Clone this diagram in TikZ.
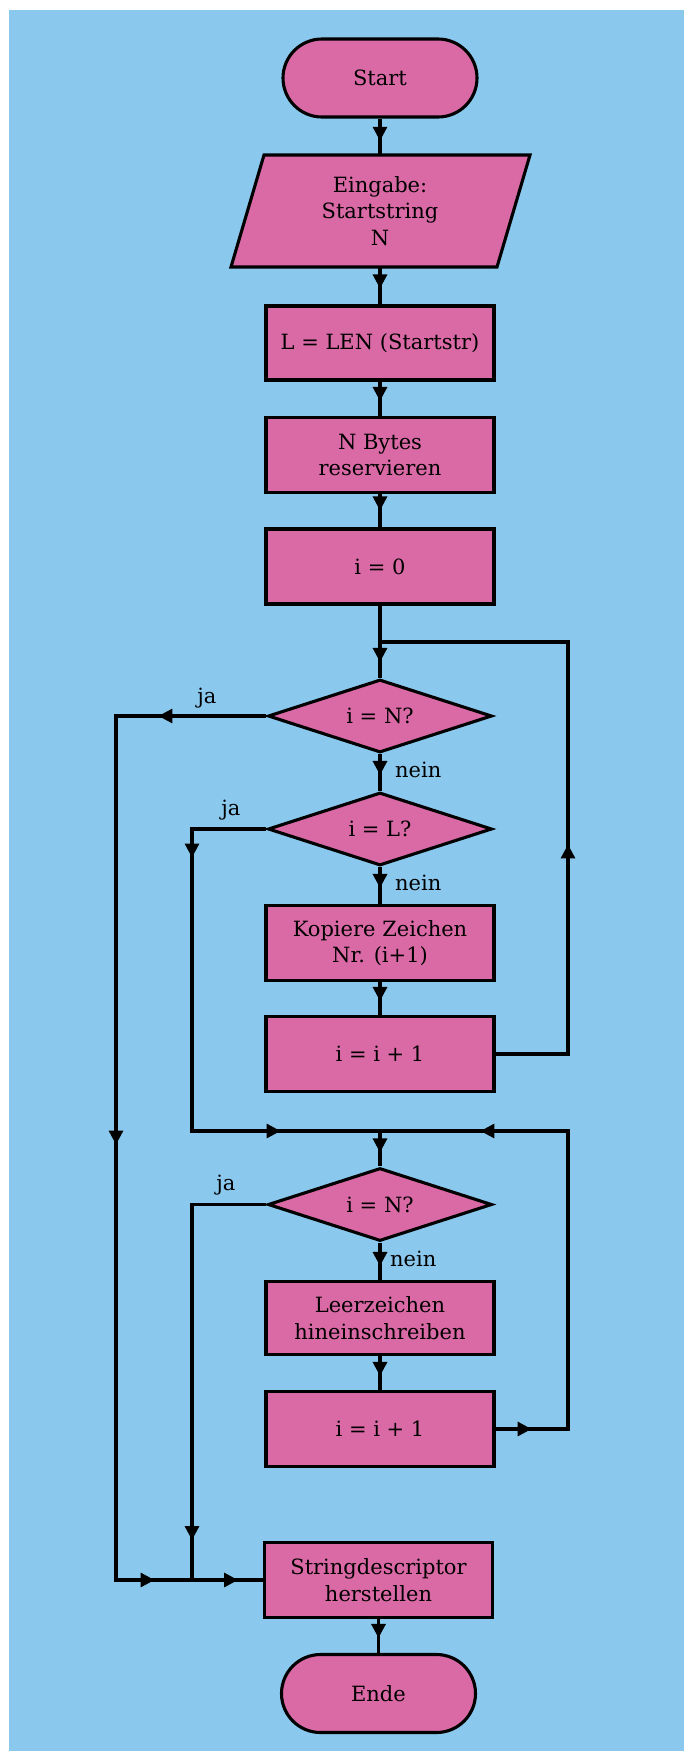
\documentclass[tikz,border=0pt]{standalone}
\usepackage{fontspec}
\setmainfont{DejaVu Serif}
\usetikzlibrary{shapes.geometric,arrows.meta,decorations.markings}
\definecolor{bgblue}{HTML}{8BC8EE}
\definecolor{pinkfill}{HTML}{DA6AA6}
\begin{document}
\begin{tikzpicture}[x=1pt,y=-1pt,
  >={Triangle[length=14pt,width=14pt]},
  txt/.style={font=\fontsize{21}{26.5}\selectfont},
  base/.style={txt, draw=black, fill=pinkfill, line width=3.1pt, inner sep=0pt, align=center},
  box/.style={base, rectangle, minimum width=228pt, minimum height=75pt},
  term/.style={base, rectangle, rounded corners=39pt, minimum width=194pt, minimum height=78pt},
  dec/.style={base, diamond, aspect=3, minimum width=224pt, minimum height=73pt},
  lab/.style={txt, inner sep=0pt},
  flow/.style={draw=black, line width=3.1pt},
  ah/.style={postaction={decorate,decoration={markings,mark=at position #1 with {\arrow{>}}}}},
]
\useasboundingbox (0,0) rectangle (684,1751);
\fill[white] (0,0) rectangle (684,1751);
\fill[bgblue] (9,10) rectangle (684,1751);

\node[term] (start) at (380,78) {Start};
\filldraw[fill=pinkfill, draw=black, line width=3.1pt] (264,155) -- (530,155) -- (497,267) -- (231,267) -- cycle;
\node[txt, inner sep=0pt, minimum width=262pt, minimum height=112pt, align=center] (eing) at (380,211) {Eingabe:\\Startstring\\N};
\node[box, minimum height=74pt] (len) at (380,343) {L = LEN (Startstr)};
\node[box] (nb) at (380,455) {N Bytes\\reservieren};
\node[box] (i0) at (380,566.5) {i = 0};
\coordinate (jtop) at (380,642);
\node[dec] (dn1) at (380,716) {i = N?};
\node[dec] (dl) at (380,829) {i = L?};
\node[box] (kop) at (380,943) {Kopiere Zeichen\\Nr. (i+1)};
\node[box] (inc1) at (380,1054) {i = i + 1};
\coordinate (jmid) at (380,1131);
\node[dec] (dn2) at (380,1204.5) {i = N?};
\node[box, minimum height=73pt] (leer) at (380,1318) {Leerzeichen\\hineinschreiben};
\node[box] (inc2) at (380,1429) {i = i + 1};
\node[box] (sd) at (378.5,1580) {Stringdescriptor\\herstellen};
\node[term] (ende) at (378.5,1693.5) {Ende};

\node[lab] (ja1) at (207,698) {ja};
\node[lab] (ja2) at (231,810) {ja};
\node[lab] (ja3) at (226,1185) {ja};
\node[lab, anchor=west] (nein1) at (395,770) {nein};
\node[lab, anchor=west] (nein2) at (395,883) {nein};
\node[lab, anchor=west] (nein3) at (390,1259) {nein};

\coordinate (r1) at (568,642);
\coordinate (r2) at (568,1131);
\coordinate (bl) at (116,1580);
\coordinate (cm) at (192,1131);
\coordinate (bm) at (192,1580);

\draw[flow, ah=-14pt] (start.south) -- (eing.north);
\draw[flow, ah=-16pt] (eing.south) -- (len.north);
\draw[flow, ah=-15pt] (len) -- (nb);
\draw[flow, ah=-17pt] (nb) -- (i0);
\draw[flow, ah=-16pt] (i0) -- (dn1);
\draw[flow, ah=-16pt] (dn1) -- (dl);
\draw[flow, ah=-16pt] (dl) -- (kop);
\draw[flow, ah=-14pt] (kop) -- (inc1);
\draw[flow, ah=282pt] (inc1.east) -| (r1) -- (jtop);
\draw[flow, ah=108pt, ah=579pt, ah=1053pt] (dn1.west) -| (bl) -- (sd.west);
\draw[flow, ah=103pt, ah=465pt] (dl.west) -| (cm) -- (jmid);
\draw[flow, ah=-14pt] (jmid) -- (dn2);
\draw[flow, ah=-14pt] (dn2) -- (leer);
\draw[flow, ah=-14pt] (leer) -- (inc2);
\draw[flow, ah=36pt, ah=458pt] (inc2.east) -| (r2) -- (jmid);
\draw[flow, ah=410pt, ah=496pt] (dn2.west) -| (bm) -- (sd.west);
\draw[flow, ah=-15pt] (sd) -- (ende);
\end{tikzpicture}
\end{document}
